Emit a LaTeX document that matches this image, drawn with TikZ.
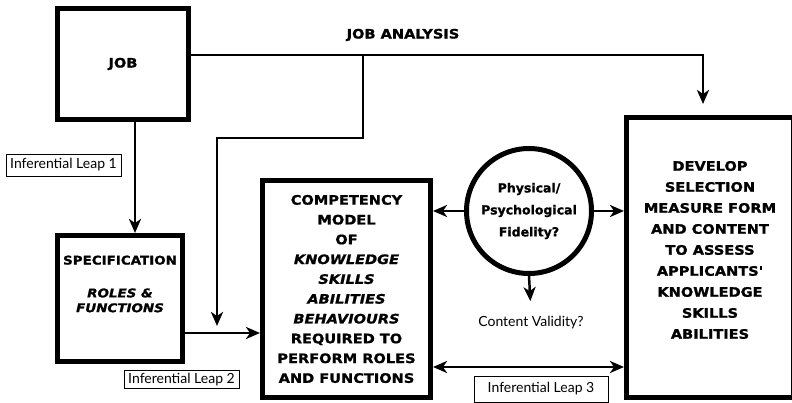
\documentclass[tikz,border=0pt]{standalone}
\usepackage{fontspec}
\setmainfont{Lato}
\newfontfamily\gillfont{DejaVu Sans}[Ligatures=TeXOff,BoldFeatures={FakeBold=1.2},BoldItalicFeatures={FakeBold=1.2}]
\newfontfamily\gillwide{DejaVu Sans}[FakeStretch=1.12,Ligatures=TeXOff,BoldFeatures={FakeBold=1.2},BoldItalicFeatures={FakeBold=1.2}]
\usetikzlibrary{positioning, calc}
\usetikzlibrary{arrows.meta}

\tikzset{
  box/.style = {draw, line width=5pt, align=center, font=\gillwide\bfseries\fontsize{13pt}{19.8pt}\selectfont},
  boxtext/.style = {align=center, font=\gillwide\bfseries\fontsize{13pt}{19.8pt}\selectfont},
  leap/.style = {draw, line width=0.9pt, inner sep=0pt, font=\fontsize{14pt}{16pt}\selectfont},
  link/.style = {line width=2.5pt, -{Stealth[length=14pt,width=12pt,inset=4pt]}},
  twoway/.style = {line width=2.5pt, {Stealth[length=14pt,width=12pt,inset=4pt]}-{Stealth[length=14pt,width=12pt,inset=4pt]}},
}

\begin{document}
\begin{tikzpicture}[x=1pt, y=-1pt]
                \useasboundingbox (0,0) rectangle (792,403);
                \node[box, minimum width=131pt, minimum height=111pt] (job) at (123,64) {JOB};
                \node[box, minimum width=125pt, minimum height=126pt] (spec) at (120,298.5) {};
                \node[boxtext, font=\gillwide\bfseries\fontsize{12pt}{19.8pt}\selectfont] (spectext) at (120,284) {SPECIFICATION\\[13pt]\textit{ROLES \&}\\[-5pt]\textit{FUNCTIONS}};
                \node[box, minimum width=168pt, minimum height=217pt] (comp) at (346.5,289) {COMPETENCY\\MODEL\\OF\\\textit{KNOWLEDGE}\\\textit{SKILLS}\\\textit{ABILITIES}\\\textit{BEHAVIOURS}\\REQUIRED TO\\PERFORM ROLES\\AND FUNCTIONS};
                \node[box, minimum width=167pt, minimum height=280pt] (measure) at (710,257.5) {};
                \node[boxtext, font=\gillwide\bfseries\fontsize{13pt}{21pt}\selectfont] (measuretext) at (710,250) {DEVELOP\\SELECTION\\MEASURE FORM\\AND CONTENT\\TO ASSESS\\APPLICANTS'\\KNOWLEDGE\\SKILLS\\ABILITIES};
                \node[box, circle, minimum size=125pt, font=\gillfont\bfseries\fontsize{12.5pt}{22pt}\selectfont] (fid) at (529,211) {Physical/\\Psychological\\Fidelity?};
                \node[font=\fontsize{14pt}{16pt}\selectfont] (valid) at (531,323) {Content Validity?};
                \node[font=\gillwide\bfseries\fontsize{13pt}{15pt}\selectfont] (analysis) at (403,35) {JOB ANALYSIS};
                \node[leap, minimum width=115pt, minimum height=22pt] (leap1) at (63.5,165) {Inferential Leap 1};
                \node[leap, minimum width=115pt, minimum height=18pt] (leap2) at (181.5,379.5) {Inferential Leap 2};
                \node[leap, minimum width=134pt, minimum height=26pt] (leap3) at (541,389) {Inferential Leap 3};
                \coordinate (branch) at (363,55);
                \coordinate (drop) at (217,326);
                \draw[link] ([xshift=12pt]job.south) -- ([xshift=15pt]spec.north);
                \draw[link, shorten >=11pt] ([yshift=9pt]job.east) -| ([xshift=-7pt]measure.north);
                \draw[link] (branch) -- ++(0,83) -| (drop);
                \draw[link] ([yshift=-34.5pt]spec.east) -- ([yshift=-34.5pt]spec.east -| comp.west);
                \draw[link] (fid.west) -- (fid.west -| comp.east);
                \draw[link] (fid.east) -- (fid.east -| measure.west);
                \draw[link, shorten >=12pt] (fid.south) -- (valid.north);
                \draw[twoway] ([yshift=-78pt]comp.east) -- ([yshift=-78pt]comp.east -| measure.west);
\end{tikzpicture}
\end{document}
